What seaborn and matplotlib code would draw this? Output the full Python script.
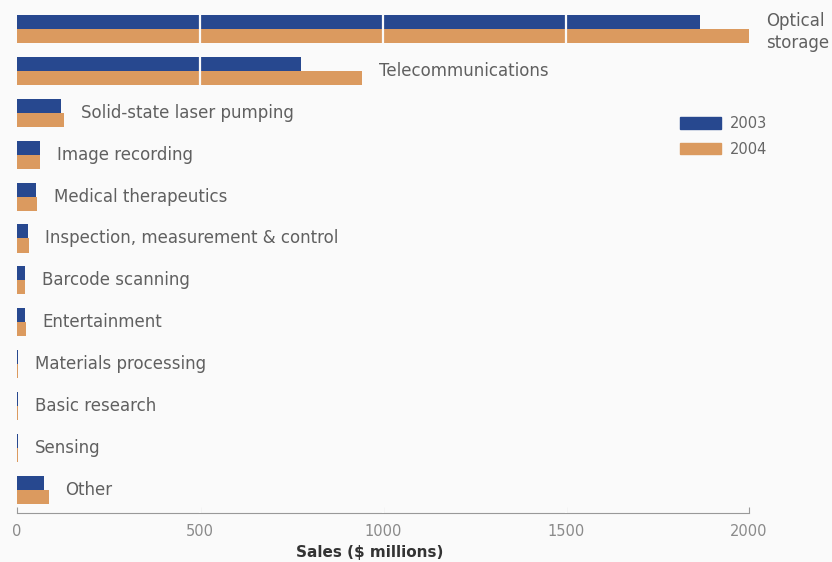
import matplotlib
matplotlib.use("Agg")
import matplotlib.pyplot as plt
import seaborn as sns
import pandas as pd

# Laser sales by application, $ millions
applications = [
    "Optical\nstorage", "Telecommunications", "Solid-state laser pumping",
    "Image recording", "Medical therapeutics", "Inspection, measurement & control",
    "Barcode scanning", "Entertainment", "Materials processing",
    "Basic research", "Sensing", "Other",
]
sales_2003 = [1865, 776, 120, 63, 52, 30, 22, 22, 4, 3, 2, 74]
sales_2004 = [2000, 943, 128, 63, 55, 32, 22, 25, 4, 3, 2, 87]
years = ["2003", "2004"]

df = pd.DataFrame({
    "application": applications * 2,
    "sales": sales_2003 + sales_2004,
    "year": [years[0]] * len(applications) + [years[1]] * len(applications),
})

sns.set_theme(style="white")
plt.rcParams["font.family"] = ["DejaVu Sans"]

blue = "#27488f"
orange = "#db9a5f"
bg = "#fafafa"

fig = plt.figure(figsize=(8.32, 5.62), dpi=100, facecolor=bg)
ax = fig.add_axes([17 / 832, 1 - 513 / 562, 732 / 832, 513 / 562])
ax.set_facecolor(bg)

sns.barplot(data=df, y="application", x="sales", hue="year", orient="h",
            palette=[blue, orange], width=0.67, saturation=1, ax=ax,
            legend=False, linewidth=0)

ax.set_xlim(0, 2000)
ax.set_ylim(11.55, -0.69)

# light rules through the long bars
for v in (500, 1000, 1500):
    ax.axvline(v, color=bg, lw=1.6, zorder=5)

# category labels placed just past the longest bar of each row
for i, name in enumerate(applications):
    end = max(sales_2003[i], sales_2004[i])
    dy = -2 if "\n" in name else 0
    ax.annotate(name, (end, i), xytext=(12, dy), textcoords="offset points",
                va="center", ha="left", fontsize=12, color="#606060",
                annotation_clip=False, linespacing=1.3, zorder=10)

for s in ("top", "right", "left"):
    ax.spines[s].set_visible(False)
ax.spines["bottom"].set_color("#999999")
ax.spines["bottom"].set_linewidth(0.8)
ax.set_yticks([])
ax.set_ylabel("")
ax.set_xticks([0, 500, 1000, 1500, 2000])
ax.tick_params(axis="x", direction="in", length=4, width=0.8, color="#999999",
               labelcolor="#8a8a8a", labelsize=10.5, pad=8, bottom=True)
ax.set_xlabel("Sales ($ millions)", fontsize=11, fontweight="bold",
              color="#333333", labelpad=3)
ax.xaxis.set_label_coords(0.482, -0.062)

handles = [plt.Rectangle((0, 0), 1, 1, color=blue),
           plt.Rectangle((0, 0), 1, 1, color=orange)]
fig.legend(handles, years, loc="upper left",
           bbox_to_anchor=(680 / 832, 1 - 116 / 562), frameon=False,
           fontsize=10.5, handlelength=2.8, handleheight=0.8,
           handletextpad=0.6, labelspacing=0.75, borderpad=0,
           borderaxespad=0, labelcolor="#666666")

fig.savefig("out.png", dpi=100, facecolor=fig.get_facecolor())
